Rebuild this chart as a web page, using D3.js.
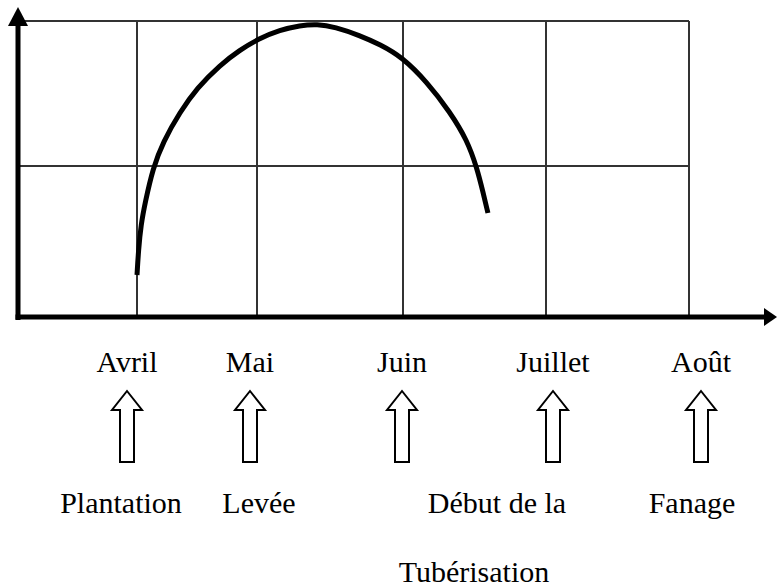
<!DOCTYPE html>
<html>
<head>
<meta charset="utf-8">
<script src="https://cdn.jsdelivr.net/npm/d3@7"></script>
<style>
  body { margin: 0; background: #fff; }
  text { font-family: "Liberation Serif", "Times New Roman", serif; font-size: 30px; fill: #000; }
</style>
</head>
<body>
<svg width="777" height="587"></svg>
<script>
// months on the x axis, index 0..4
let months = ["Avril", "Mai", "Juin", "Juillet", "Août"];
// grid levels on the y axis
let levels = [0, 1, 2];
// growth curve: [month index, level]
let growth = [
  [0.0, 0.278], [0.0125, 0.444], [0.033, 0.609], [0.067, 0.755], [0.133, 0.987],
  [0.217, 1.166], [0.358, 1.372], [0.5, 1.538], [0.692, 1.697], [0.858, 1.8],
  [1.007, 1.876], [1.158, 1.938], [1.295, 1.969], [1.411, 1.979], [1.534, 1.959],
  [1.705, 1.9], [1.842, 1.838], [1.993, 1.752], [2.168, 1.579], [2.329, 1.372],
  [2.448, 1.179], [2.517, 0.987], [2.559, 0.828], [2.594, 0.689]
];
// crop stages
let stages = ["Plantation", "Levée", "Début de la", "Fanage"];
let stageNotes = ["Tubérisation"];

let svg = d3.select("svg");

let x = d3.scaleLinear().domain([0, 1, 2, 3, 4]).range([137, 257, 403, 546, 689]);
let y = d3.scaleLinear().domain([0, 1, 2]).range([317, 166, 21]);

// label positions (they do not sit exactly on the grid)
let monthX = d3.scaleOrdinal().domain(months).range([127, 250, 402, 553, 701]);
let stageX = d3.scaleOrdinal().domain(stages).range([121, 259, 497, 692]);
let noteX = d3.scaleOrdinal().domain(stageNotes).range([474]);

// grid
let grid = svg.append("g").attr("stroke", "#333").attr("stroke-width", 2);
grid.selectAll(".vline")
  .data(months.map((d, i) => i))
  .join("line")
  .attr("x1", (d) => x(d)).attr("x2", (d) => x(d))
  .attr("y1", y(2)).attr("y2", y(0));
grid.selectAll(".hline")
  .data(levels.filter((d) => d > 0))
  .join("line")
  .attr("x1", 18).attr("x2", x(4))
  .attr("y1", (d) => y(d)).attr("y2", (d) => y(d));

// axes with arrow heads
let axes = svg.append("g");
axes.append("line")
  .attr("x1", 18).attr("x2", 18).attr("y1", y(0) + 3).attr("y2", 22)
  .attr("stroke", "#000").attr("stroke-width", 5);
axes.append("path")
  .attr("d", "M18,7 L28,26 L8,26 Z").attr("fill", "#000");
axes.append("line")
  .attr("x1", 15.5).attr("x2", 766).attr("y1", y(0)).attr("y2", y(0))
  .attr("stroke", "#000").attr("stroke-width", 5);
axes.append("path")
  .attr("d", `M777,${y(0)} L764,${y(0) - 9} L764,${y(0) + 9} Z`).attr("fill", "#000");

// growth curve
let line = d3.line()
  .x((d) => x(d[0]))
  .y((d) => y(d[1]))
  .curve(d3.curveBasis);

svg.append("path")
  .datum(growth)
  .attr("d", line)
  .attr("fill", "none")
  .attr("stroke", "#000")
  .attr("stroke-width", 5);

// month labels
svg.append("g")
  .selectAll("text")
  .data(months)
  .join("text")
  .attr("x", (d) => monthX(d))
  .attr("y", 372)
  .attr("text-anchor", "middle")
  .text((d) => d);

// hollow arrows
let arrow = (cx) =>
  `M${cx},391 L${cx + 15},410 L${cx + 7},410 L${cx + 7},462 L${cx - 7},462 L${cx - 7},410 L${cx - 15},410 Z`;
svg.append("g")
  .selectAll("path")
  .data(months)
  .join("path")
  .attr("d", (d) => arrow(monthX(d)))
  .attr("fill", "#fff")
  .attr("stroke", "#000")
  .attr("stroke-width", 2);

// stage labels
svg.append("g")
  .selectAll("text")
  .data(stages)
  .join("text")
  .attr("x", (d) => stageX(d))
  .attr("y", 513)
  .attr("text-anchor", "middle")
  .text((d) => d);

svg.append("g")
  .selectAll("text")
  .data(stageNotes)
  .join("text")
  .attr("x", (d) => noteX(d))
  .attr("y", 582)
  .attr("text-anchor", "middle")
  .text((d) => d);
</script>
</body>
</html>
